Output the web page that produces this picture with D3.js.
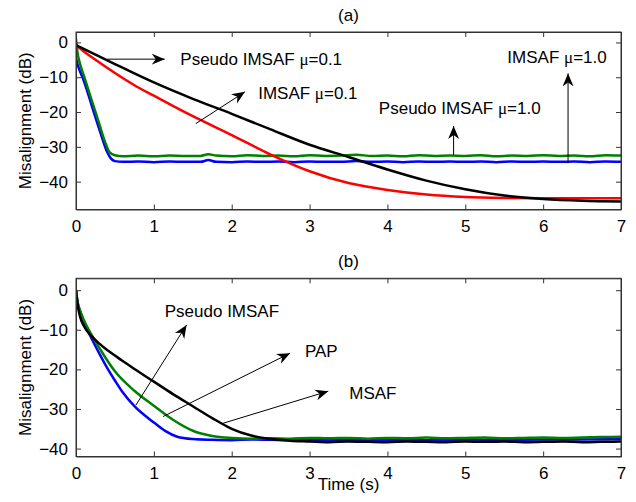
<!DOCTYPE html>
<meta charset="utf-8">
<style type="text/css">
    body { margin: 0; background: #fff; }
    svg { display: block; font-family: "Liberation Sans", Arial, sans-serif; }
    .axis text { font-size: 17px; fill: #000; }
    .axis path, .axis line { stroke: #333; }
    .lbl { font-size: 17px; fill: #000; }
</style>
<svg id="chart" width="636" height="502"></svg>
<script src="https://cdn.jsdelivr.net/npm/d3@7"></script>
<script type="text/javascript">
    // ---- data (time in s, misalignment in dB) ----
    var xTicks = [0, 1, 2, 3, 4, 5, 6, 7];
    var yTicks = [-40, -30, -20, -10, 0];

    // panel (a)
    var aPseudo01 = [[0,-0.8],[0.25,-3.5],[0.5,-6.2],[0.75,-8.9],[1,-11.5],[1.5,-16.2],[2,-20.5],[2.5,-25],[3,-29.4],[3.5,-32.9],[4,-36.5],[4.5,-39.7],[5,-42.2],[5.5,-44],[6,-45],[6.5,-45.5],[7,-45.7]];
    var aImsaf01 = [[0,-0.8],[0.1,-2.6],[0.25,-5],[0.5,-8.8],[0.75,-12.3],[1,-15.3],[1.25,-18.3],[1.5,-21.2],[2,-26.6],[2.5,-32.2],[3,-37],[3.5,-40.4],[4,-42.4],[4.5,-43.7],[5,-44.4],[5.5,-44.7],[6,-44.8],[6.5,-44.8],[7,-44.8]];
    var aPseudo10 = [[0,1],[0.02,-3],[0.05,-6],[0.1,-9.5],[0.2,-16.5],[0.3,-23.5],[0.38,-29],[0.43,-31.5],[0.5,-32.4],[0.6,-32.7],[0.8,-32.5],[1,-32.7],[1.2,-32.5],[1.4,-32.6],[1.6,-32.6],[1.7,-32.1],[1.8,-32.5],[2,-32.7],[2.2,-32.4],[2.4,-32.6],[2.6,-32.5],[2.8,-32.7],[3,-32.4],[3.2,-32.6],[3.4,-32.5],[3.6,-32.3],[3.8,-32.6],[4,-32.5],[4.2,-32.7],[4.4,-32.4],[4.6,-32.6],[4.8,-32.5],[5,-32.6],[5.2,-32.4],[5.4,-32.7],[5.6,-32.5],[5.8,-32.6],[6,-32.4],[6.2,-32.6],[6.4,-32.5],[6.6,-32.7],[6.8,-32.4],[7,-32.5]];
    var aImsaf10 = [[0,-4.5],[0.02,-6.3],[0.05,-8.2],[0.1,-11],[0.2,-18],[0.3,-25],[0.4,-31.5],[0.45,-33.4],[0.5,-34.1],[0.6,-34.3],[0.8,-34.2],[1,-34.4],[1.2,-34.2],[1.4,-34.3],[1.6,-34.3],[1.7,-33.8],[1.8,-34.3],[2,-34.4],[2.2,-34.2],[2.4,-34.3],[2.6,-34.2],[2.8,-34.4],[3,-34.2],[3.2,-34.3],[3.4,-34.3],[3.6,-34.1],[3.8,-34.3],[4,-34.2],[4.2,-34.4],[4.4,-34.2],[4.6,-34.3],[4.8,-34.2],[5,-34.3],[5.2,-34.2],[5.4,-34.4],[5.6,-34.2],[5.8,-34.3],[6,-34.2],[6.2,-34.3],[6.4,-34.2],[6.6,-34.4],[6.8,-34.2],[7,-34.3]];

    // panel (b)
    var bMsaf = [[0,0],[0.02,-3.5],[0.05,-6.5],[0.1,-9],[0.2,-11.6],[0.3,-13.5],[0.4,-15.1],[0.5,-16.5],[0.6,-17.9],[0.75,-19.9],[1,-23.1],[1.25,-26.3],[1.5,-29.3],[1.75,-32.3],[2,-35],[2.25,-36.7],[2.5,-37.6],[2.75,-38],[3,-38.2],[3.25,-38.4],[3.5,-38.2],[3.75,-38.3],[4,-38.4],[4.25,-38.2],[4.5,-38.3],[4.75,-38.4],[5,-38.2],[5.25,-38.3],[5.5,-38.2],[5.75,-38.4],[6,-38.3],[6.25,-38.2],[6.5,-38.4],[6.75,-38.3],[7,-38.2]];
    var bPap = [[0,0],[0.02,-3],[0.05,-5],[0.1,-7.5],[0.2,-11.3],[0.3,-14.6],[0.4,-17.7],[0.5,-20.5],[0.75,-25.4],[1,-29.2],[1.25,-32.8],[1.5,-35.5],[1.75,-36.8],[2,-37.3],[2.25,-37.5],[2.5,-37.4],[2.75,-37.5],[3,-37.3],[3.25,-37.4],[3.5,-37.3],[3.75,-37.5],[4,-37.3],[4.25,-37.4],[4.5,-37.2],[4.75,-37.4],[5,-37.3],[5.25,-37.2],[5.5,-37.4],[5.75,-37.3],[6,-37.2],[6.25,-37.3],[6.5,-37.2],[6.75,-37.1],[7,-37.0]];
    var bPseudo = [[0,0],[0.02,-3],[0.05,-5.2],[0.1,-8],[0.2,-12.2],[0.3,-16],[0.4,-19.6],[0.5,-22.8],[0.6,-25.8],[0.75,-29.3],[1,-33.4],[1.15,-35.6],[1.3,-37],[1.5,-37.6],[1.75,-37.8],[2,-37.9],[2.25,-37.7],[2.5,-37.8],[2.75,-37.9],[3,-37.8],[3.5,-37.9],[4,-37.8],[4.5,-37.9],[5,-37.7],[5.5,-37.8],[6,-37.7],[6.5,-37.7],[7,-37.6]];

    // annotations: [label, mu value, textT, textDb, arrowFromT, arrowFromDb, arrowToT, arrowToDb]
    var aNotes = [
        ["Pseudo IMSAF ", "0.1", 1.34, -4.7, 0.40, -4.8, 1.14, -4.8],
        ["IMSAF ", "0.1", 2.34, -14.5, 1.54, -23.3, 2.17, -14.2],
        ["Pseudo IMSAF ", "1.0", 3.89, -18.8, 4.85, -32.3, 4.85, -24.0],
        ["IMSAF ", "1.0", 5.54, -4.2, 6.32, -34.7, 6.32, -8.9]
    ];
    var bNotes = [
        ["Pseudo IMSAF", null, 1.14, -5.3, 0.77, -29.0, 1.42, -8.8],
        ["PAP", null, 2.94, -15.4, 1.12, -31.9, 2.75, -15.9],
        ["MSAF", null, 3.51, -26.0, 1.89, -33.6, 3.24, -25.5]
    ];

    var svg = d3.select("#chart");
    var left = 76, right = 621;

    var defs = svg.append("defs");
    defs.append("marker")
        .attr("id", "head")
        .attr("markerUnits", "userSpaceOnUse")
        .attr("markerWidth", 16).attr("markerHeight", 14)
        .attr("refX", 13).attr("refY", 7)
        .attr("orient", "auto")
        .append("path")
        .attr("d", "M13,7 L0,1.5 L4,7 L0,12.5 Z")
        .attr("fill", "#000");

    function fmt(d) { return d < 0 ? "\u2212" + Math.abs(d) : "" + d; }

    function panel(top, bottom, yDomain, title, series, notes, showXLabel) {
        var x = d3.scaleLinear().domain([0, 7]).range([left, right]);
        var y = d3.scaleLinear().domain(yDomain).range([bottom, top]);
        var g = svg.append("g");

        var line = d3.line()
            .x(d => x(d[0]))
            .y(d => y(d[1]))
            .curve(d3.curveMonotoneX);

        // clip lines to the axes box
        var cid = "clip" + Math.round(top);
        defs.append("clipPath").attr("id", cid)
            .append("rect").attr("x", left).attr("y", top)
            .attr("width", right - left).attr("height", bottom - top);

        g.append("g").attr("clip-path", "url(#" + cid + ")")
            .selectAll("path").data(series).enter().append("path")
            .attr("d", s => line(s.values))
            .attr("fill", "none")
            .attr("stroke", s => s.color)
            .attr("stroke-width", 2.5)
            .attr("stroke-linejoin", "round");

        // box + inward ticks
        g.append("g").attr("class", "axis")
            .attr("transform", "translate(0," + bottom + ")")
            .call(d3.axisBottom(x).tickValues(xTicks).tickFormat(fmt).tickSizeInner(-5).tickSizeOuter(0).tickPadding(10));
        g.append("g").attr("class", "axis")
            .attr("transform", "translate(0," + top + ")")
            .call(d3.axisTop(x).tickValues(xTicks).tickFormat("").tickSizeInner(-5).tickSizeOuter(0));
        g.append("g").attr("class", "axis")
            .attr("transform", "translate(" + left + ",0)")
            .call(d3.axisLeft(y).tickValues(yTicks).tickFormat(fmt).tickSizeInner(-5).tickSizeOuter(0).tickPadding(8));
        g.append("g").attr("class", "axis")
            .attr("transform", "translate(" + right + ",0)")
            .call(d3.axisRight(y).tickValues(yTicks).tickFormat("").tickSizeInner(-5).tickSizeOuter(0));
        g.append("rect")
            .attr("x", left).attr("y", top)
            .attr("width", right - left).attr("height", bottom - top)
            .attr("fill", "none").attr("stroke", "#333").attr("stroke-width", 1);

        // annotations
        notes.forEach(n => {
            g.append("line")
                .attr("x1", x(n[4])).attr("y1", y(n[5]))
                .attr("x2", x(n[6])).attr("y2", y(n[7]))
                .attr("stroke", "#000").attr("stroke-width", 1)
                .attr("marker-end", "url(#head)");
            var t = g.append("text").attr("class", "lbl")
                .attr("x", x(n[2])).attr("y", y(n[3]))
                .attr("dy", "0.36em")
                .text(n[0]);
            if (n[1]) {
                t.append("tspan").attr("font-family", "'Liberation Serif', serif").text("\u03bc");
                t.append("tspan").text("=" + n[1]);
            }
        });

        svg.append("text").attr("class", "lbl")
            .attr("x", (left + right) / 2).attr("y", top - 17)
            .attr("dy", "0.36em")
            .attr("text-anchor", "middle")
            .text(title);

        svg.append("text").attr("class", "lbl")
            .attr("transform", "translate(25," + (top + bottom) / 2 + ") rotate(-90)")
            .attr("dy", "0.36em")
            .attr("text-anchor", "middle")
            .text("Misalignment (dB)");

        if (showXLabel) {
            svg.append("text").attr("class", "lbl")
                .attr("x", (left + right) / 2).attr("y", bottom + 27)
                .attr("dy", "0.36em")
                .attr("text-anchor", "middle")
                .text("Time (s)");
        }
    }

    panel(32, 209.5, [-48, 3], "(a)", [
        { values: aImsaf10, color: "#0000ff" },
        { values: aPseudo10, color: "#008000" },
        { values: aImsaf01, color: "#ff0000" },
        { values: aPseudo01, color: "#000000" }
    ], aNotes, false);

    panel(278.3, 456.5, [-42, 3], "(b)", [
        { values: bPseudo, color: "#0000ff" },
        { values: bPap, color: "#008000" },
        { values: bMsaf, color: "#000000" }
    ], bNotes, true);
</script>
